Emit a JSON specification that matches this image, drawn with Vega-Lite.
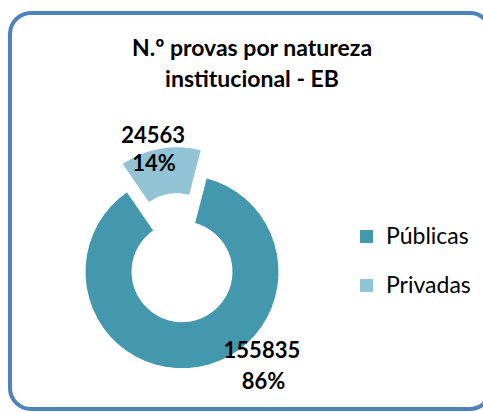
{
  "$schema": "https://vega.github.io/schema/vega-lite/v6.json",
  "width": 483,
  "height": 412,
  "autosize": {"type": "fit", "contains": "padding"},
  "padding": {"left": 10, "top": 13, "right": -8, "bottom": -2},
  "background": "white",
  "view": {"stroke": "#4F81BD", "strokeWidth": 4, "cornerRadius": 21},
  "config": {
    "view": {"stroke": "#4F81BD", "strokeWidth": 4, "cornerRadius": 21},
    "font": "Lato"
  },
  "title": {
    "text": ["N.º provas por natureza", "institucional - EB"],
    "orient": "none",
    "anchor": "middle",
    "align": "center",
    "baseline": "middle",
    "dx": 242,
    "dy": 36,
    "font": "Lato",
    "fontSize": 23,
    "fontWeight": "bold",
    "lineHeight": 31,
    "color": "#000000"
  },
  "data": {
    "values": [
      {"natureza": "Públicas", "provas": 155835, "pct": "86%"},
      {"natureza": "Privadas", "provas": 24563, "pct": "14%"}
    ]
  },
  "encoding": {
    "theta": {"field": "provas", "type": "quantitative", "stack": true, "scale": {"range": [-0.602, 5.681]}},
    "order": {"field": "natureza", "sort": "ascending"}
  },
  "layer": [
    {
      "mark": {"type": "arc", "innerRadius": 50, "outerRadius": 97, "x": {"expr": "width*0.3576"}, "y": {"expr": "height*0.6534"}, "stroke": "white", "strokeWidth": 1},
      "encoding": {
        "color": {
          "field": "natureza", "type": "nominal",
          "scale": {"domain": ["Públicas", "Privadas"], "range": ["#4398AE", "#93C4D6"]},
          "legend": {
            "orient": "none", "legendX": 345, "legendY": 212, "title": null,
            "symbolType": "square", "symbolSize": 169, "symbolStrokeWidth": 0,
            "labelFont": "Lato", "labelFontSize": 23, "labelColor": "#000000",
            "rowPadding": 25, "labelOffset": 8, "padding": 0
          }
        },
        "opacity": {"condition": {"test": "datum.natureza === 'Públicas'", "value": 1}, "value": 0}
      }
    },
    {
      "mark": {"type": "arc", "innerRadius": 50, "outerRadius": 97, "x": {"expr": "width*0.3576"}, "y": {"expr": "height*0.6534"}, "xOffset": -5, "yOffset": -28, "stroke": "white", "strokeWidth": 1},
      "encoding": {
        "color": {"field": "natureza", "type": "nominal", "legend": null},
        "opacity": {"condition": {"test": "datum.natureza === 'Privadas'", "value": 1}, "value": 0}
      }
    },
    {
      "mark": {"type": "text", "radius": 138, "dx": -5, "x": {"expr": "width*0.3576"}, "y": {"expr": "height*0.6534"}, "font": "Lato", "fontSize": 22, "fontWeight": "bold", "color": "#000000"},
      "encoding": {
        "text": {"field": "provas", "type": "quantitative", "format": "d"},
        "opacity": {"condition": {"test": "datum.natureza === 'Privadas'", "value": 1}, "value": 0}
      }
    },
    {
      "mark": {"type": "text", "radius": 109, "dx": -9, "x": {"expr": "width*0.3576"}, "y": {"expr": "height*0.6534"}, "font": "Lato", "fontSize": 22, "fontWeight": "bold", "color": "#000000"},
      "encoding": {
        "text": {"field": "pct", "type": "nominal"},
        "opacity": {"condition": {"test": "datum.natureza === 'Privadas'", "value": 1}, "value": 0}
      }
    },
    {
      "mark": {"type": "text", "radius": 80, "dx": 66, "x": {"expr": "width*0.3576"}, "y": {"expr": "height*0.6534"}, "font": "Lato", "fontSize": 22, "fontWeight": "bold", "color": "#000000"},
      "encoding": {
        "text": {"field": "provas", "type": "quantitative", "format": "d"},
        "opacity": {"condition": {"test": "datum.natureza === 'Públicas'", "value": 1}, "value": 0}
      }
    },
    {
      "mark": {"type": "text", "radius": 112, "dx": 62, "x": {"expr": "width*0.3576"}, "y": {"expr": "height*0.6534"}, "font": "Lato", "fontSize": 22, "fontWeight": "bold", "color": "#000000"},
      "encoding": {
        "text": {"field": "pct", "type": "nominal"},
        "opacity": {"condition": {"test": "datum.natureza === 'Públicas'", "value": 1}, "value": 0}
      }
    }
  ]
}
